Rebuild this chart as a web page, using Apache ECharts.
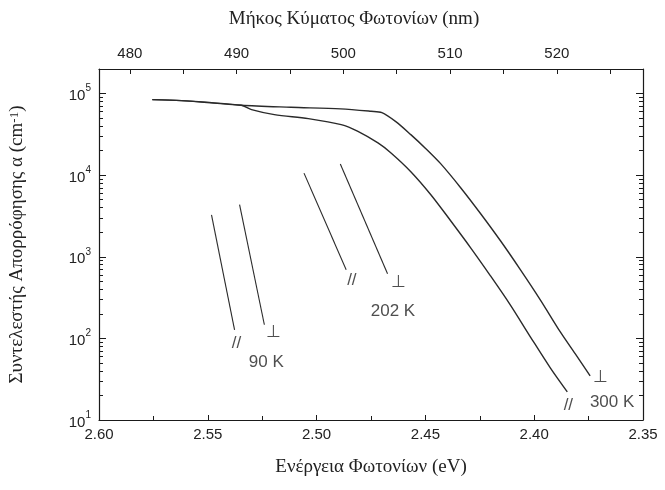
<!DOCTYPE html>
<html>
<head>
<meta charset="utf-8">
<script src="https://cdn.jsdelivr.net/npm/echarts@6/dist/echarts.min.js"></script>
<style>
html,body{margin:0;padding:0;background:#fff;}
#chart{width:665px;height:490px;}
</style>
</head>
<body>
<div id="chart"></div>
<script>
// ---- Data ----
const perpEnergy = [2.5755, 2.5621, 2.5346, 2.5118, 2.4889, 2.4750, 2.4700, 2.4636, 2.4567, 2.4498, 2.4430, 2.4338, 2.4246, 2.4155, 2.4063, 2.3972, 2.3880, 2.3811, 2.3743];
const perpAlpha  = [84300, 82000, 71800, 67900, 64900, 60660, 58470, 45330, 31400, 21150, 13840, 7025, 3370, 1571, 692, 297, 120, 64.5, 34.7];

const parEnergy = [2.5755, 2.5621, 2.5346, 2.5299, 2.5194, 2.5038, 2.4887, 2.4810, 2.4718, 2.4658, 2.4567, 2.4475, 2.4384, 2.4292, 2.4201, 2.4110, 2.4017, 2.3926, 2.3848];
const parAlpha  = [84300, 82000, 71800, 63640, 55250, 49350, 41650, 34470, 24840, 18730, 11040, 5763, 2765, 1289, 585, 258, 104, 43.5, 22.1];

// polarisation indicator strokes [energy, alpha] start/end
const stroke90Par   = [[2.5483, 3270], [2.5377, 127]];
const stroke90Perp  = [[2.5354, 4345], [2.5240, 147]];
const stroke202Par  = [[2.5058, 10600], [2.4864, 692]];
const stroke202Perp = [[2.4891, 13700], [2.4674, 618]];

// annotation texts [energy, alpha, text]
const annotations = [
  [2.5368, 88, '//'], [2.5199, 120, '\u22A5'], [2.5231, 51.5, '90 K'],
  [2.4838, 522, '//'], [2.4622, 480, '\u22A5'], [2.4649, 217, '202 K'],
  [2.3697, 33.7, '\u22A5'], [2.3843, 15.3, '//'], [2.3642, 16.6, '300 K']
];

const energyTicks = [2.35, 2.40, 2.45, 2.50, 2.55, 2.60];
const wavelengthLabels = [480, 490, 500, 510, 520];
const wavelengthTicks = [480, 485, 490, 495, 500, 505, 510, 515, 520, 525];
const alphaMajor = [10, 100, 1000, 10000, 100000];
const alphaMinor = [];
[10, 100, 1000, 10000].forEach(d => { for (let k = 2; k <= 9; k++) alphaMinor.push(d * k); });
alphaMinor.push(200000);

// ---- Chart ----
const zip = (xs, ys) => xs.map((x, i) => [x, ys[i]]);
const axisColor = '#1a1a1a';
const sans = 'Liberation Sans, Arial, sans-serif';
const serif = 'Liberation Serif, Times New Roman, serif';

const chart = echarts.init(document.getElementById('chart'), null, {renderer: 'canvas'});

const logY = (pos, opts) => Object.assign({
  type: 'log', logBase: 10, min: 10, max: 200000, position: pos,
  splitLine: {show: false}, axisLine: {show: false}, axisLabel: {show: false},
  axisTick: {show: false}
}, opts);

const lineSeries = (data, width) => ({
  type: 'line', xAxisIndex: 0, yAxisIndex: 0, data: data, symbol: 'none',
  smooth: 0.3, lineStyle: {color: '#2a2a2a', width: width}, silent: true, z: 3
});

chart.setOption({
  animation: false,
  backgroundColor: '#fff',
  grid: {left: 97, right: 22, top: 69, bottom: 70},
  xAxis: [
    {
      type: 'value', inverse: true, min: 2.35, max: 2.60, interval: 0.05, position: 'bottom',
      axisLine: {show: true, lineStyle: {color: axisColor, width: 1.2}},
      axisTick: {show: true, inside: true, length: 5, lineStyle: {color: axisColor}},
      minorTick: {show: true, splitNumber: 2, length: 4, lineStyle: {color: axisColor}},
      splitLine: {show: false},
      axisLabel: {customValues: energyTicks, formatter: v => v.toFixed(2), fontFamily: sans, fontSize: 15, color: '#222', margin: 7},
      name: 'Ενέργεια Φωτονίων (eV)', nameLocation: 'middle', nameGap: 38,
      nameTextStyle: {fontFamily: serif, fontSize: 19, color: '#222'}
    },
    {
      type: 'value', min: 477.11, max: 528.07, position: 'top',
      axisLine: {show: true, lineStyle: {color: axisColor, width: 1.2}},
      axisTick: {show: true, inside: true, length: 5, customValues: wavelengthTicks, lineStyle: {color: axisColor}},
      splitLine: {show: false},
      axisLabel: {customValues: wavelengthLabels, fontFamily: sans, fontSize: 15, color: '#222', margin: 8},
      name: 'Μήκος Κύματος Φωτονίων (nm)', nameLocation: 'middle', nameGap: 40,
      nameTextStyle: {fontFamily: serif, fontSize: 19, color: '#222', padding: [0, 34, 0, 0]}
    }
  ],
  yAxis: [
    logY('left', {
      axisLine: {show: true, lineStyle: {color: axisColor, width: 1.2}},
      axisTick: {show: true, inside: true, length: 7, customValues: alphaMajor, lineStyle: {color: axisColor}},
      axisLabel: {
        show: true, customValues: alphaMajor, margin: 8,
        formatter: v => '{b|10}{s|' + Math.round(Math.log10(v)) + '}',
        rich: {
          b: {fontFamily: sans, fontSize: 15, color: '#222', lineHeight: 20, verticalAlign: 'bottom'},
          s: {fontFamily: sans, fontSize: 10, color: '#222', lineHeight: 12, verticalAlign: 'top'}
        }
      },
      name: 'Συντελεστής Απορρόφησης α (cm{s|-1})', nameLocation: 'middle', nameGap: 72,
      nameTextStyle: {
        fontFamily: serif, fontSize: 19, color: '#222',
        rich: {s: {fontFamily: serif, fontSize: 13, color: '#222', verticalAlign: 'top', lineHeight: 12}}
      }
    }),
    logY('left', {axisTick: {show: true, inside: true, length: 4, customValues: alphaMinor, lineStyle: {color: axisColor}}}),
    logY('right', {
      axisLine: {show: true, lineStyle: {color: axisColor, width: 1.2}},
      axisTick: {show: true, inside: true, length: 7, customValues: alphaMajor, lineStyle: {color: axisColor}}
    }),
    logY('right', {axisTick: {show: true, inside: true, length: 4, customValues: alphaMinor, lineStyle: {color: axisColor}}})
  ],
  series: [
    lineSeries(zip(perpEnergy, perpAlpha), 1.4),
    lineSeries(zip(parEnergy, parAlpha), 1.4),
    Object.assign(lineSeries(stroke90Par, 1.1), {smooth: false}),
    Object.assign(lineSeries(stroke90Perp, 1.1), {smooth: false}),
    Object.assign(lineSeries(stroke202Par, 1.1), {smooth: false}),
    Object.assign(lineSeries(stroke202Perp, 1.1), {smooth: false}),
    {
      type: 'scatter', xAxisIndex: 0, yAxisIndex: 0, data: annotations, symbolSize: 1,
      itemStyle: {color: 'rgba(0,0,0,0)'}, silent: true, z: 4,
      label: {
        show: true, position: 'inside', formatter: p => p.data[2],
        fontFamily: sans, fontSize: 17, color: '#222'
      }
    }
  ]
});
</script>
</body>
</html>
